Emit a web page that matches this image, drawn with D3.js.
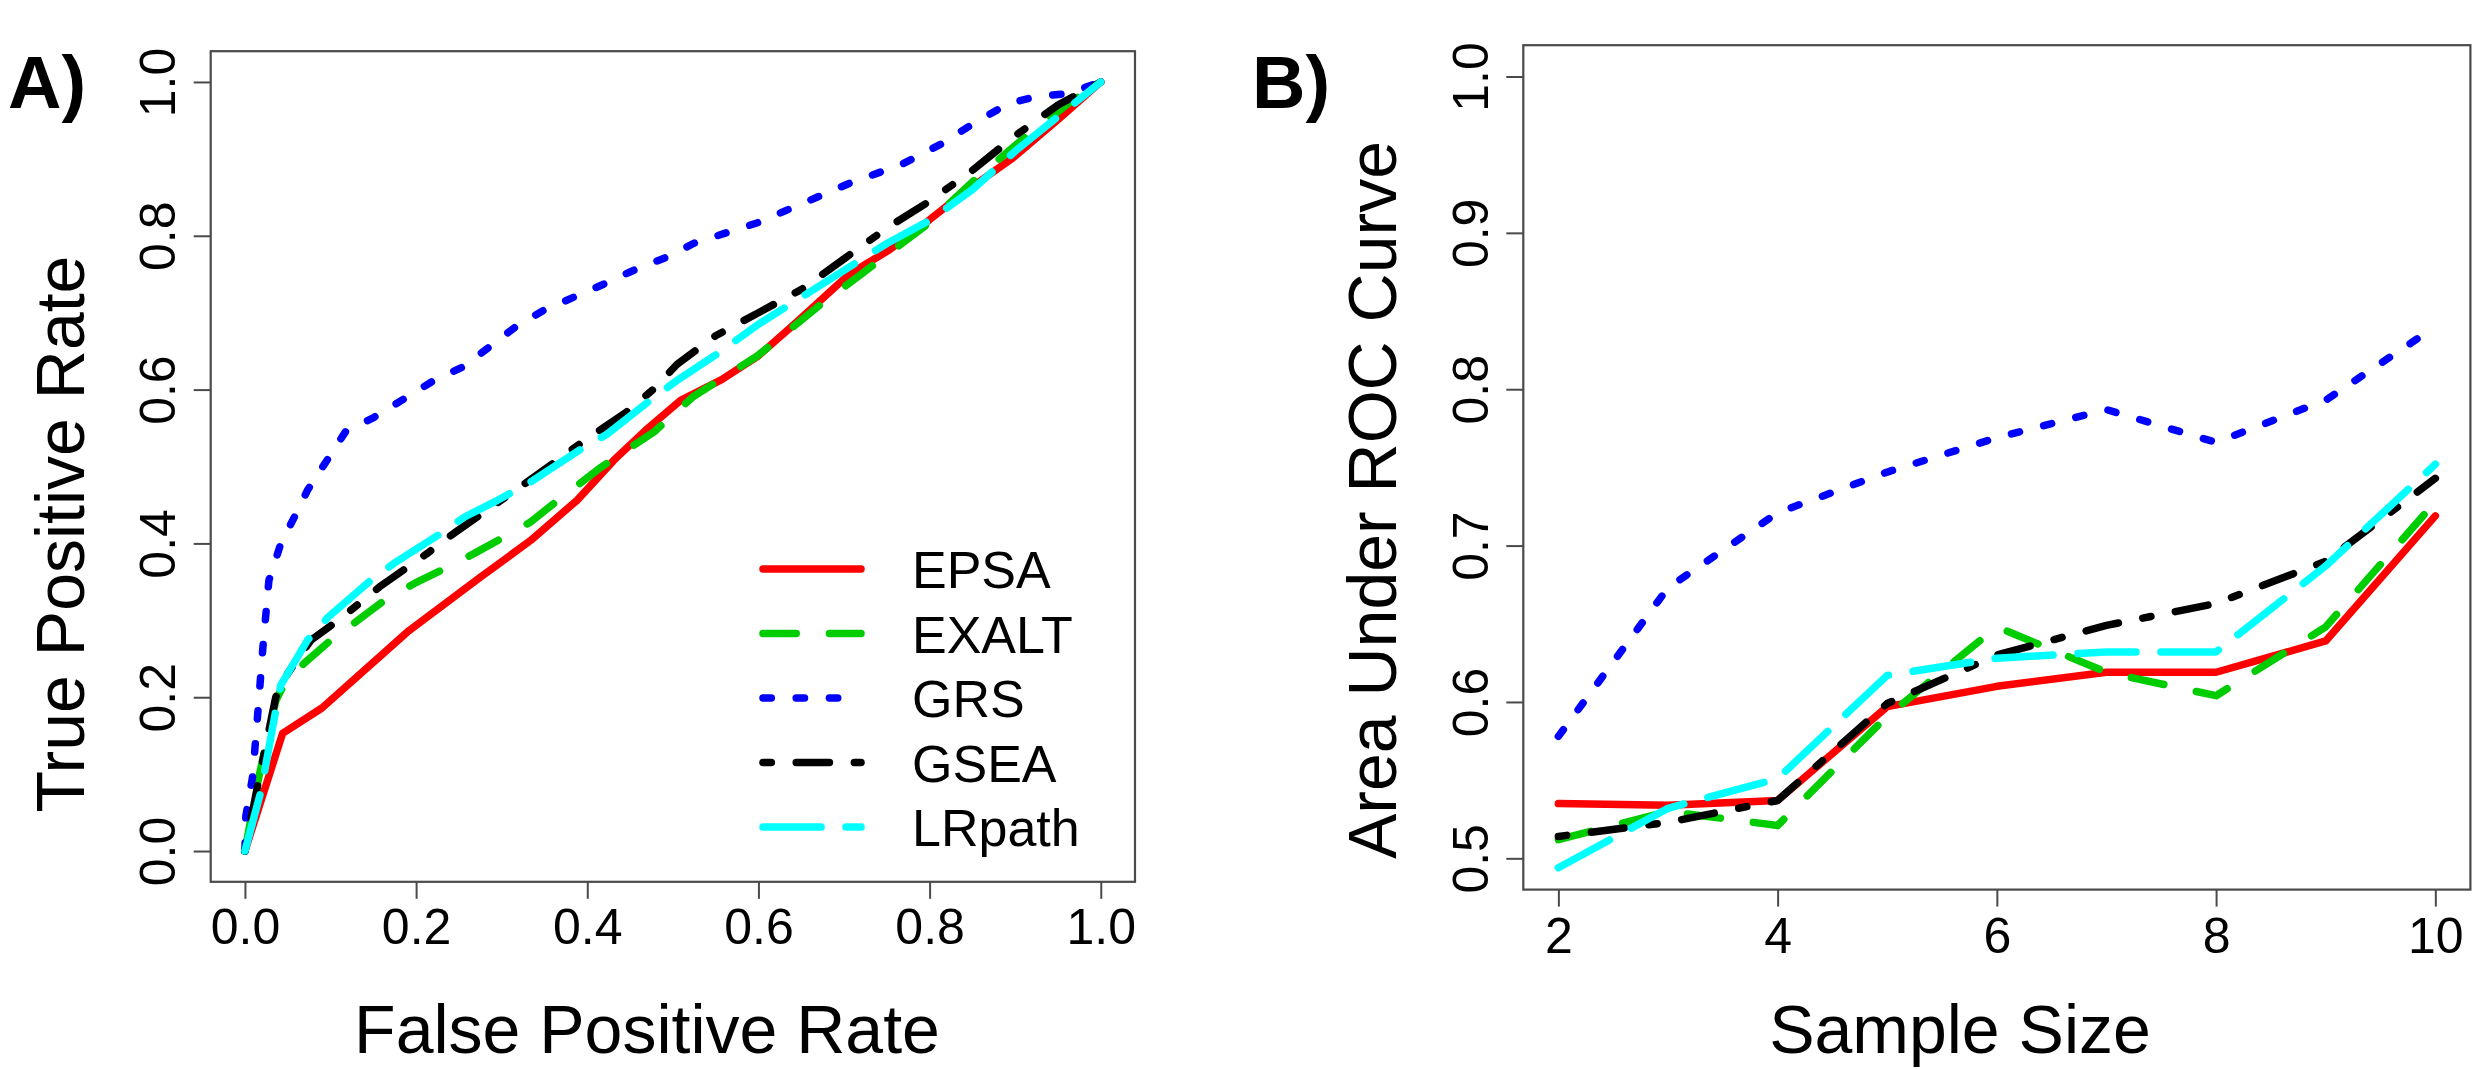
<!DOCTYPE html>
<html>
<head>
<meta charset="utf-8">
<script src="https://cdn.jsdelivr.net/npm/d3@7"></script>
<style>
  html, body { margin: 0; padding: 0; background: #fff; }
  svg { display: block; }
  text { font-family: "Liberation Sans", Arial, Helvetica, sans-serif; fill: #000; }
</style>
</head>
<body>
<svg id="chart" width="2492" height="1069"></svg>
<script>
// ---------------- DATA ----------------
const methods = ["EPSA", "EXALT", "GRS", "GSEA", "LRpath"];
const colors = ["#FF0000", "#00CD00", "#0000FF", "#000000", "#00FFFF"];
const dashUnits = [null, [4, 4], [1, 3], [1, 3, 4, 3], [7, 3]];

// Panel A: ROC curves [FPR, TPR]
const rocEPSA = [[0,0],[0.044,0.153],[0.09,0.186],[0.19,0.285],[0.275,0.356],[0.334,0.404],[0.388,0.456],[0.431,0.508],[0.468,0.547],[0.509,0.586],[0.557,0.613],[0.60,0.644],[0.645,0.688],[0.706,0.75],[0.752,0.781],[0.80,0.821],[0.841,0.857],[0.897,0.901],[0.953,0.954],[1,1]];
const rocEXALT = [[0,0],[0.015,0.09],[0.036,0.195],[0.042,0.209],[0.069,0.244],[0.10,0.274],[0.132,0.30],[0.163,0.326],[0.198,0.348],[0.233,0.367],[0.268,0.387],[0.299,0.406],[0.334,0.428],[0.361,0.452],[0.416,0.499],[0.478,0.545],[0.524,0.591],[0.599,0.644],[0.673,0.711],[0.72,0.75],[0.794,0.812],[0.85,0.87],[0.906,0.923],[0.962,0.972],[1,1]];
const rocGRS = [[0,0],[0.001,0.045],[0.009,0.097],[0.015,0.179],[0.021,0.265],[0.028,0.352],[0.042,0.40],[0.060,0.439],[0.073,0.469],[0.097,0.510],[0.118,0.546],[0.151,0.564],[0.186,0.588],[0.221,0.612],[0.254,0.629],[0.285,0.655],[0.318,0.683],[0.349,0.703],[0.384,0.720],[0.419,0.737],[0.458,0.757],[0.497,0.774],[0.524,0.790],[0.599,0.817],[0.664,0.848],[0.710,0.870],[0.766,0.892],[0.813,0.919],[0.850,0.945],[0.892,0.972],[0.925,0.981],[0.962,0.985],[1,1]];
const rocGSEA = [[0,0],[0.015,0.086],[0.036,0.200],[0.050,0.231],[0.077,0.274],[0.104,0.296],[0.128,0.317],[0.159,0.345],[0.213,0.387],[0.244,0.413],[0.299,0.456],[0.33,0.48],[0.392,0.53],[0.445,0.57],[0.478,0.601],[0.505,0.633],[0.55,0.67],[0.60,0.70],[0.65,0.73],[0.70,0.77],[0.75,0.81],[0.80,0.845],[0.85,0.885],[0.90,0.93],[0.95,0.97],[1,1]];
const rocLRpath = [[0,0],[0.019,0.079],[0.036,0.183],[0.042,0.216],[0.073,0.274],[0.097,0.304],[0.147,0.352],[0.174,0.374],[0.229,0.413],[0.256,0.434],[0.295,0.456],[0.334,0.48],[0.396,0.525],[0.423,0.542],[0.478,0.59],[0.505,0.612],[0.55,0.645],[0.60,0.685],[0.65,0.72],[0.70,0.755],[0.75,0.79],[0.80,0.82],[0.85,0.86],[0.90,0.91],[0.95,0.955],[1,1]];
const rocSeries = [rocEPSA, rocEXALT, rocGRS, rocGSEA, rocLRpath];

// Panel B: AUC vs sample size
const sampleSizes = [2, 3, 4, 5, 6, 7, 8, 9, 10];
const aucEPSA   = [0.535, 0.534, 0.537, 0.597, 0.610, 0.619, 0.619, 0.639, 0.719];
const aucEXALT  = [0.512, 0.530, 0.521, 0.591, 0.648, 0.619, 0.604, 0.648, 0.728];
const aucGRS    = [0.578, 0.673, 0.721, 0.747, 0.769, 0.787, 0.766, 0.793, 0.840];
const aucGSEA   = [0.514, 0.523, 0.537, 0.599, 0.630, 0.649, 0.663, 0.690, 0.743];
const aucLRpath = [0.494, 0.532, 0.551, 0.617, 0.628, 0.632, 0.632, 0.687, 0.752];
const aucSeries = [aucEPSA, aucEXALT, aucGRS, aucGSEA, aucLRpath];

const ticksA = [0, 0.2, 0.4, 0.6, 0.8, 1.0];
const ticksBx = [2, 4, 6, 8, 10];
const ticksBy = [0.5, 0.6, 0.7, 0.8, 0.9, 1.0];

// ---------------- DRAW ----------------
const svg = d3.select("#chart");
svg.append("rect").attr("width", 2492).attr("height", 1069).attr("fill", "#fff");

const LW = 7.5, U = 8.3, TICK = 17, AXC = "#4a4a4a";

function dash(i) {
  return dashUnits[i] ? dashUnits[i].map(d => d * U).join(",") : null;
}

function panel(opts) {
  const { x, y, xTicks, yTicks, xFmt, yFmt, xLabelDy, label, labelX, xTitle, xTitleX, yTitle, yTitleY, yTitleX } = opts;
  const g = svg.append("g");
  const [x0, x1] = x.range(), [y0, y1] = y.range();

  // x axis
  const ax = g.append("g").attr("transform", `translate(0,${y0})`)
    .call(d3.axisBottom(x).tickValues(xTicks).tickFormat(xFmt).tickSize(TICK).tickSizeOuter(0));
  ax.select(".domain").remove();
  ax.selectAll(".tick line").attr("stroke", AXC).attr("stroke-width", 2);
  ax.selectAll(".tick text").attr("y", xLabelDy).attr("dy", 0)
    .style("font-family", '"Liberation Sans", Arial, sans-serif').style("font-size", "50px").attr("fill", "#000");

  // y axis
  const ay = g.append("g").attr("transform", `translate(${x0},0)`)
    .call(d3.axisLeft(y).tickValues(yTicks).tickFormat(yFmt).tickSize(TICK).tickSizeOuter(0));
  ay.select(".domain").remove();
  ay.selectAll(".tick line").attr("stroke", AXC).attr("stroke-width", 2);
  ay.selectAll(".tick text").attr("x", 0).attr("y", -35.5).attr("dy", 0)
    .attr("transform", "rotate(-90)").attr("text-anchor", "middle")
    .style("font-family", '"Liberation Sans", Arial, sans-serif').style("font-size", "50px").attr("fill", "#000");

  // box
  g.append("rect").attr("x", x0).attr("y", y1).attr("width", x1 - x0).attr("height", y0 - y1)
    .attr("fill", "none").attr("stroke", AXC).attr("stroke-width", 2.2);

  // titles
  g.append("text").attr("x", xTitleX).attr("y", 1053).attr("text-anchor", "middle")
    .style("font-size", "68px").text(xTitle);
  g.append("text").attr("transform", `translate(${yTitleX},${yTitleY}) rotate(-90)`)
    .attr("text-anchor", "middle").style("font-size", "68px").text(yTitle);
  g.append("text").attr("x", labelX).attr("y", 108).style("font-size", "74px")
    .style("font-weight", "bold").text(label);
  return g;
}

function drawLines(g, data, x, y) {
  const line = d3.line().x(d => x(d[0])).y(d => y(d[1]));
  data.forEach((pts, i) => {
    g.append("path").datum(pts).attr("d", line)
      .attr("fill", "none").attr("stroke", colors[i]).attr("stroke-width", LW)
      .attr("stroke-linecap", "round").attr("stroke-linejoin", "round")
      .attr("stroke-dasharray", dash(i));
  });
}

// ----- Panel A -----
const xA = d3.scaleLinear().domain([-0.04, 1.04]).range([210.7, 1135]);
const yA = d3.scaleLinear().domain([-0.04, 1.04]).range([881.8, 51.2]);
const gA = panel({
  x: xA, y: yA, xTicks: ticksA, yTicks: ticksA, xFmt: d3.format(".1f"), yFmt: d3.format(".1f"),
  xLabelDy: 62, label: "A)", labelX: 8, xTitle: "False Positive Rate", xTitleX: 647,
  yTitle: "True Positive Rate", yTitleY: 534, yTitleX: 84
});
drawLines(gA, rocSeries, xA, yA);

// legend
const leg = gA.append("g");
methods.forEach((m, i) => {
  const ly = 569 + i * 64.5;
  leg.append("line").attr("x1", 763).attr("x2", 861).attr("y1", ly).attr("y2", ly)
    .attr("stroke", colors[i]).attr("stroke-width", LW).attr("stroke-linecap", "round")
    .attr("stroke-dasharray", dash(i));
  leg.append("text").attr("x", 912).attr("y", ly + 19).style("font-size", "52px").text(m);
});

// ----- Panel B -----
const xB = d3.scaleLinear().domain([1.68, 10.32]).range([1523.3, 2470.4]);
const yB = d3.scaleLinear().domain([0.48, 1.02]).range([889.6, 45.2]);
const gB = panel({
  x: xB, y: yB, xTicks: ticksBx, yTicks: ticksBy, xFmt: d3.format("d"), yFmt: d3.format(".1f"),
  xLabelDy: 63, label: "B)", labelX: 1252, xTitle: "Sample Size", xTitleX: 1960,
  yTitle: "Area Under ROC Curve", yTitleY: 500, yTitleX: 1396
});
drawLines(gB, aucSeries.map(s => s.map((v, k) => [sampleSizes[k], v])), xB, yB);
</script>
</body>
</html>
